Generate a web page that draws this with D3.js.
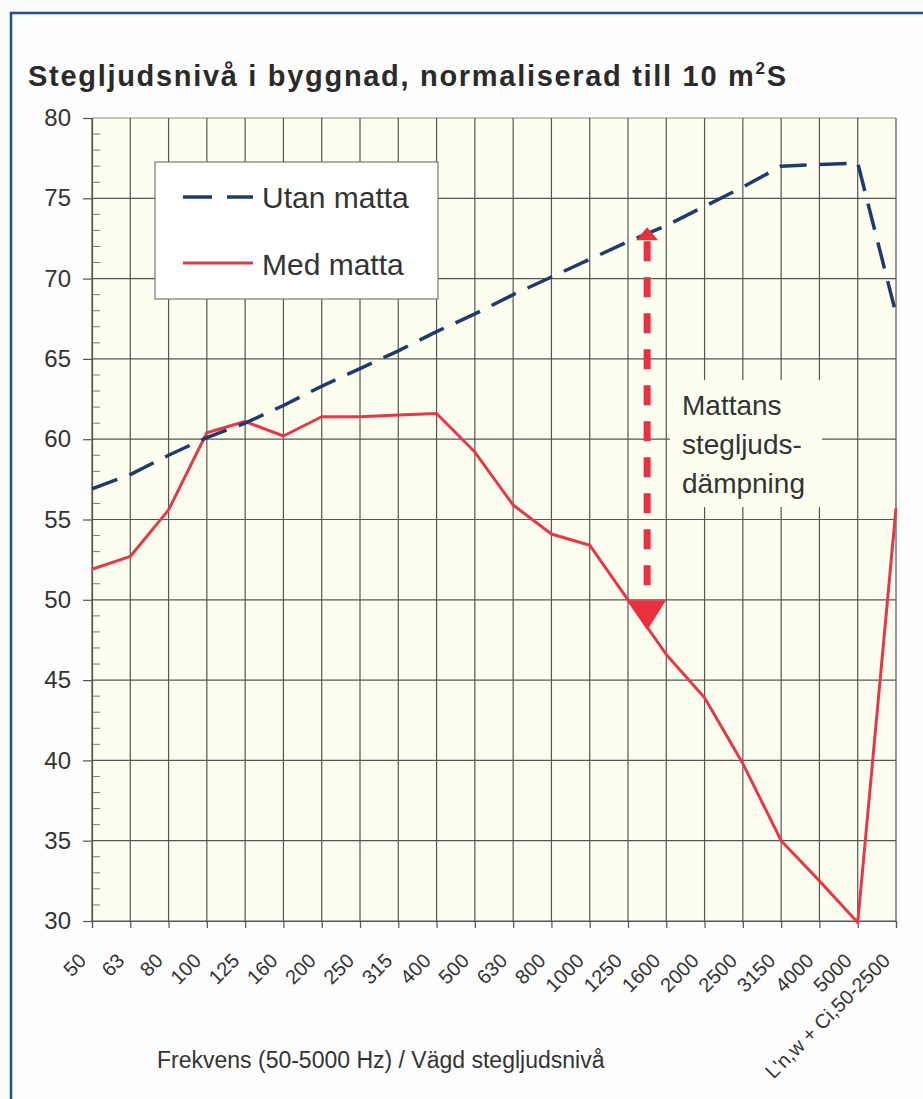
<!DOCTYPE html>
<html>
<head>
<meta charset="utf-8">
<script src="https://cdn.jsdelivr.net/npm/d3@7"></script>
<style>
  html, body { margin: 0; padding: 0; background: #fcfcfc; }
  svg { display: block; font-family: "Liberation Sans", Arial, sans-serif; }
</style>
</head>
<body>
<svg id="chart" width="923" height="1099"></svg>
<script>
"use strict";

// chart values
const categories = ["50", "63", "80", "100", "125", "160", "200", "250", "315", "400",
  "500", "630", "800", "1000", "1250", "1600", "2000", "2500", "3150", "4000", "5000",
  "L'n,w + Ci,50-2500"];
const utanMatta = [56.9, 57.8, 59.0, 60.1, 61.0, 62.1, 63.3, 64.4, 65.5, 66.7,
  67.8, 69.0, 70.1, 71.2, 72.3, 73.3, 74.5, 75.7, 77.0, 77.1, 77.2, 67.8];
const medMatta = [51.9, 52.7, 55.6, 60.4, 61.1, 60.2, 61.4, 61.4, 61.5, 61.6,
  59.2, 55.9, 54.1, 53.4, 50.0, 46.6, 43.9, 39.8, 35.0, 32.5, 29.9, 55.7];
const yTicks = [30, 35, 40, 45, 50, 55, 60, 65, 70, 75, 80];
const seriesNames = ["Utan matta", "Med matta"];
const arrowBetween = ["1250", "1600"];
const arrowRange = [73.2, 48.1];
const noteLines = ["Mattans", "stegljuds-", "dämpning"];

const svg = d3.select("#chart");
const plot = { left: 92, right: 896, top: 118, bottom: 921 };

const x = d3.scalePoint().domain(categories).range([plot.left, plot.right]);
const y = d3.scaleLinear().domain([30, 80]).range([plot.bottom, plot.top]);

// outer blue frame
svg.append("rect")
  .attr("x", 11).attr("y", 13).attr("width", 1000).attr("height", 1200)
  .attr("fill", "#fdfdfd").attr("stroke", "#1d4f91").attr("stroke-width", 2.5);

// title
const title = svg.append("text")
  .attr("x", 28).attr("y", 86)
  .attr("font-size", 29).attr("font-weight", "bold").attr("fill", "#2a2a2a")
  .attr("textLength", 758).attr("lengthAdjust", "spacing");
title.append("tspan").text("Stegljudsnivå i byggnad, normaliserad till 10 m");
title.append("tspan").attr("dy", -12).attr("font-size", 17).text("2");
title.append("tspan").attr("dy", 12).text("S");

// plot background
svg.append("rect")
  .attr("x", plot.left).attr("y", plot.top)
  .attr("width", plot.right - plot.left).attr("height", plot.bottom - plot.top)
  .attr("fill", "#fefef0");

// grid
const gridColor = "#555";
svg.append("g")
  .selectAll("line.h").data(yTicks).join("line")
  .attr("x1", plot.left).attr("x2", plot.right)
  .attr("y1", d => y(d)).attr("y2", d => y(d))
  .attr("stroke", d => d === 80 ? "#8a8a8a" : gridColor).attr("stroke-width", 1.2);
svg.append("g")
  .selectAll("line.v").data(categories).join("line")
  .attr("x1", d => x(d)).attr("x2", d => x(d))
  .attr("y1", plot.top).attr("y2", plot.bottom)
  .attr("stroke", gridColor).attr("stroke-width", 1.2);

// minor ticks on y axis
svg.append("g")
  .selectAll("line").data(d3.range(30, 81, 1).filter(v => v % 5 !== 0)).join("line")
  .attr("x1", plot.left).attr("x2", plot.left + 8)
  .attr("y1", d => y(d)).attr("y2", d => y(d))
  .attr("stroke", "#777").attr("stroke-width", 1);

// y axis
const yAxis = svg.append("g")
  .attr("transform", `translate(${plot.left},0)`)
  .call(d3.axisLeft(y).tickValues(yTicks).tickSize(9).tickPadding(12));
yAxis.select(".domain").attr("stroke", gridColor).attr("stroke-width", 1.2);
yAxis.selectAll(".tick line").attr("stroke", gridColor).attr("stroke-width", 1.2);
yAxis.selectAll(".tick text")
  .attr("font-size", 24).attr("fill", "#333").attr("font-family", "Liberation Sans, Arial");

// x axis
const xAxis = svg.append("g")
  .attr("transform", `translate(0,${plot.bottom})`)
  .call(d3.axisBottom(x).tickSize(7).tickPadding(0));
xAxis.select(".domain").attr("stroke", gridColor).attr("stroke-width", 1.2);
xAxis.selectAll(".tick line").attr("stroke", gridColor).attr("stroke-width", 1.2);
xAxis.selectAll(".tick text")
  .attr("font-size", 20).attr("fill", "#333").attr("font-family", "Liberation Sans, Arial")
  .attr("text-anchor", "end")
  .attr("dy", 0)
  .attr("transform", "translate(-10,36) rotate(-45)");

// axis title
svg.append("text")
  .attr("x", 157).attr("y", 1068)
  .attr("font-size", 23).attr("fill", "#333")
  .text("Frekvens (50-5000 Hz) / Vägd stegljudsnivå");

// note box covering grid
svg.append("rect")
  .attr("x", 670).attr("y", 380).attr("width", 152).attr("height", 127)
  .attr("fill", "#fefef0");
svg.append("g").selectAll("text").data(noteLines).join("text")
  .attr("x", 682).attr("y", (d, i) => 415 + i * 39)
  .attr("font-size", 28).attr("fill", "#333")
  .text(d => d);

// series
const line = d3.line().x((d, i) => x(categories[i])).y(d => y(d));
svg.append("path").datum(medMatta)
  .attr("d", line).attr("fill", "none")
  .attr("stroke", "#e23a47").attr("stroke-width", 3).attr("stroke-linejoin", "round");
svg.append("path").datum(utanMatta)
  .attr("d", line).attr("fill", "none")
  .attr("stroke", "#1f3b6e").attr("stroke-width", 3.5)
  .attr("stroke-dasharray", "27,13");

// arrow between the curves
const ax = (x(arrowBetween[0]) + x(arrowBetween[1])) / 2;
const aTop = y(arrowRange[0]), aBot = y(arrowRange[1]);
const red = "#e8303e";
svg.append("line")
  .attr("x1", ax).attr("x2", ax).attr("y1", aTop + 14).attr("y2", aBot - 30)
  .attr("stroke", red).attr("stroke-width", 7).attr("stroke-dasharray", "20,16");
svg.append("path")
  .attr("d", `M${ax},${aTop} L${ax - 11},${aTop + 13} L${ax + 11},${aTop + 13} Z`)
  .attr("fill", red);
svg.append("path")
  .attr("d", `M${ax},${aBot} L${ax - 19},${aBot - 30} L${ax + 19},${aBot - 30} Z`)
  .attr("fill", red);

// legend
const lg = svg.append("g");
lg.append("rect")
  .attr("x", 155).attr("y", 162).attr("width", 283).attr("height", 137)
  .attr("fill", "#ffffff").attr("stroke", "#777").attr("stroke-width", 1.2);
lg.append("line")
  .attr("x1", 183).attr("x2", 253).attr("y1", 197).attr("y2", 197)
  .attr("stroke", "#1f3b6e").attr("stroke-width", 3.5).attr("stroke-dasharray", "29,15");
lg.append("line")
  .attr("x1", 183).attr("x2", 253).attr("y1", 263).attr("y2", 263)
  .attr("stroke", "#e23a47").attr("stroke-width", 3);
lg.selectAll("text").data(seriesNames).join("text")
  .attr("x", 262).attr("y", (d, i) => 208 + i * 67)
  .attr("font-size", 30).attr("fill", "#333")
  .text(d => d);
</script>
</body>
</html>
